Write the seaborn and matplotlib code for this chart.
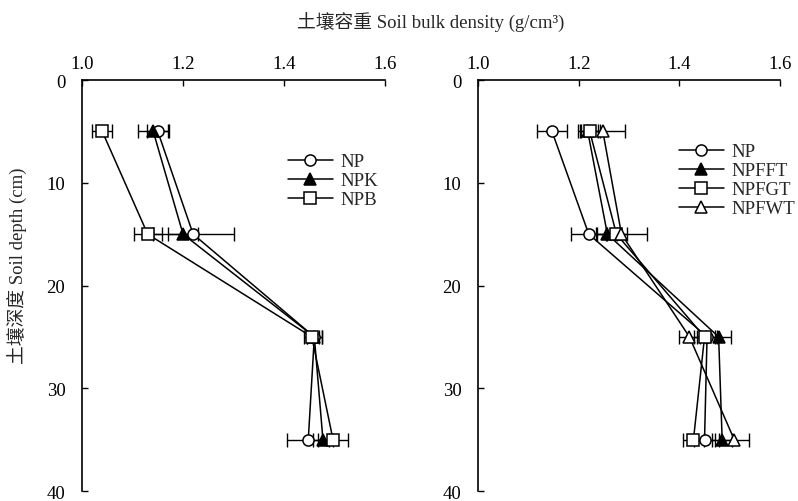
import numpy as np
import pandas as pd
import matplotlib.pyplot as plt
import seaborn as sns

sns.set_theme(style="white")
plt.rcParams["font.family"] = ["Liberation Serif", "Noto Sans CJK SC"]

# 数据
depth = [5, 15, 25, 35]

left_names = ["NP", "NPK", "NPB"]
left_vals = {
    "NP":  [1.150, 1.220, 1.460, 1.448],
    "NPK": [1.141, 1.200, 1.460, 1.477],
    "NPB": [1.040, 1.130, 1.455, 1.497],
}
left_err = {
    "NP":  [0.022, 0.080, 0.015, 0.042],
    "NPK": [0.030, 0.030, 0.015, 0.020],
    "NPB": [0.020, 0.028, 0.015, 0.030],
}

right_names = ["NP", "NPFFT", "NPFGT", "NPFWT"]
right_vals = {
    "NP":    [1.147, 1.220, 1.455, 1.450],
    "NPFFT": [1.218, 1.257, 1.478, 1.485],
    "NPFGT": [1.222, 1.275, 1.450, 1.428],
    "NPFWT": [1.248, 1.285, 1.420, 1.509],
}
right_err = {
    "NP":    [0.030, 0.036, 0.020, 0.020],
    "NPFFT": [0.020, 0.020, 0.025, 0.020],
    "NPFGT": [0.020, 0.020, 0.020, 0.020],
    "NPFWT": [0.044, 0.050, 0.020, 0.030],
}

styles = {
    "NP":    ("o", "white"),
    "NPK":   ("^", "black"),
    "NPB":   ("s", "white"),
    "NPFFT": ("^", "black"),
    "NPFGT": ("s", "white"),
    "NPFWT": ("^", "white"),
}

fs = 13.5

fig = plt.figure(figsize=(7.98, 5.02), dpi=100)
ax1 = fig.add_axes([0.1028, 0.0199, 0.3797, 0.8187])
ax2 = fig.add_axes([0.5990, 0.0199, 0.3785, 0.8187])


def draw(ax, names, vals, errs):
    for n in names:
        m, fc = styles[n]
        df = pd.DataFrame({"x": vals[n], "y": depth})
        sns.lineplot(data=df, x="x", y="y", orient="y", sort=False, ax=ax,
                     color="black", lw=1.1, marker=m, markersize=8,
                     markerfacecolor=fc, markeredgecolor="black",
                     markeredgewidth=1.1, label=n, zorder=3)
        ax.errorbar(vals[n], depth, xerr=errs[n], fmt="none", ecolor="black",
                    elinewidth=1.0, capsize=5, capthick=1.0, zorder=2)
    ax.set_xlim(1.0, 1.6)
    ax.set_ylim(40, 0)
    ax.set_xticks([1.0, 1.2, 1.4, 1.6])
    ax.set_yticks([0, 10, 20, 30, 40])
    ax.xaxis.tick_top()
    ax.xaxis.set_label_position("top")
    ax.tick_params(direction="in", length=4, width=1, labelsize=fs,
                   colors="black", top=True, left=True, bottom=False)
    ax.tick_params(axis="x", pad=6)
    ax.tick_params(axis="y", pad=12)
    for s in ["right", "bottom"]:
        ax.spines[s].set_visible(False)
    for s in ["top", "left"]:
        ax.spines[s].set_color("black")
        ax.spines[s].set_linewidth(1.2)
    ax.set_xlabel("")
    ax.set_ylabel("")


draw(ax1, left_names, left_vals, left_err)
draw(ax2, right_names, right_vals, right_err)

ax1.legend(loc="upper left", bbox_to_anchor=(0.655, 0.84), frameon=False,
           fontsize=fs, handlelength=2.4, labelspacing=0.1,
           handletextpad=0.4, borderaxespad=0)
ax2.legend(loc="upper left", bbox_to_anchor=(0.64, 0.865), frameon=False,
           fontsize=fs, handlelength=2.4, labelspacing=0.1,
           handletextpad=0.4, borderaxespad=0)

fig.text(0.54, 0.955, "土壤容重 Soil bulk density (g/cm³)", ha="center",
         va="center", fontsize=fs)
fig.text(0.022, 0.47, "土壤深度 Soil depth (cm)", ha="center", va="center",
         rotation=90, fontsize=fs)

fig.savefig("out.png", dpi=100)
